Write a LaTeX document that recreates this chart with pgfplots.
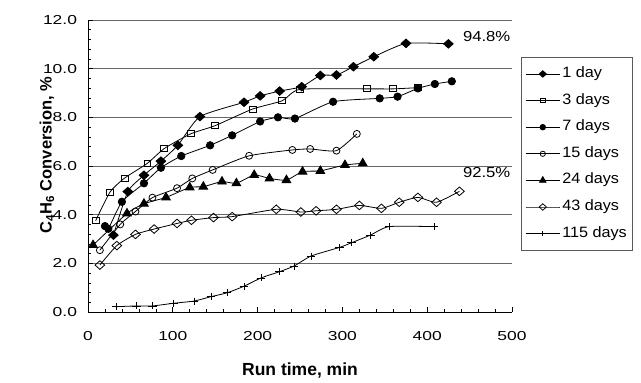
\documentclass[border=0pt]{standalone}
\usepackage{graphicx}
\usepackage{pgfplots}
\pgfplotsset{compat=1.18}
\usepackage{fontspec}
\setmainfont{Liberation Sans}
\newcommand{\sx}[1]{\scalebox{1.34}[1]{#1}}
\newcommand{\lx}[1]{\scalebox{1.08}[1]{#1}}
\begin{document}
\begin{tikzpicture}
\begin{axis}[
  scale only axis,
  width=424pt, height=292pt,
  xmin=0, xmax=500, ymin=0, ymax=12,
  axis x line=bottom, axis y line=left,
  axis line style={-, black, line width=0.8pt},
  xtick={0,100,...,500}, ytick={0,2,...,12},
  xticklabels={\sx{0},\sx{100},\sx{200},\sx{300},\sx{400},\sx{500}},
  yticklabels={\sx{0.0},\sx{2.0},\sx{4.0},\sx{6.0},\sx{8.0},\sx{10.0},\sx{12.0}},
  minor x tick num=4, minor y tick num=4,
  major tick length=5pt, minor tick length=3pt,
  major tick style={black, line width=0.7pt, tick align=center},
  minor tick style={black, line width=0.6pt},
  tick align=inside,
  ymajorgrids,
  major grid style={gray!80!black, line width=0.8pt},
  yticklabel style={font=\fontsize{13}{15}\selectfont, anchor=east, xshift=-7.5pt},
  xticklabel style={font=\fontsize{13}{15}\selectfont, anchor=north, yshift=-15.5pt},
  clip=false,
  legend style={at={(1.021,0.873)}, anchor=north west, draw=gray!70!black, line width=0.8pt,
    font=\fontsize{15}{17}\selectfont, row sep=7.6pt, inner xsep=4pt, inner ysep=7pt,
    nodes={inner sep=2pt, text height=11pt, text depth=4pt},
    /tikz/every even column/.append style={column sep=1pt}},
  legend cell align=left,
  legend image code/.code={\draw[mark repeat=2,mark phase=2,/tikz/every mark/.append style={scale=0.75}] plot coordinates {(0cm,0cm) (0.6cm,0cm) (1.2cm,0cm)};},
  every axis plot/.append style={black, line width=0.8pt, smooth, tension=0.35},
]
% 1 day
\addplot[mark=diamond*, mark size=4.3pt, mark options={fill=black, xscale=1.5}] coordinates {
(30,3.16)(47,4.95)(66,5.62)(86,6.2)(106,6.85)(132,8.03)(184,8.62)(203,8.88)(226,9.08)(252,9.26)(274,9.72)(293,9.74)(313,10.08)(337,10.49)(375,11.04)(425,11.02)};
\addlegendentry{\lx{1 day}}
% 3 days
\addplot[mark=square, mark size=3pt, mark options={fill=white, xscale=1.15}] coordinates {
(9,3.75)(26,4.93)(43,5.5)(70,6.11)(90,6.72)(121,7.32)(150,7.66)(194,8.34)(229,8.68)(250,9.15)(329,9.17)(360,9.17)(389,9.22)};
\addlegendentry{\lx{3 days}}
% 7 days
\addplot[mark=*, mark size=3.7pt, mark options={fill=black}] coordinates {
(20,3.53)(24,3.42)(40,4.53)(66,5.29)(86,5.93)(110,6.41)(144,6.85)(170,7.26)(203,7.83)(224,8.0)(244,7.95)(289,8.64)(344,8.78)(365,8.85)(389,9.19)(409,9.37)(429,9.48)};
\addlegendentry{\lx{7 days}}
% 15 days
\addplot[mark=o, mark size=3.5pt, mark options={fill=white}] coordinates {
(14,2.54)(38,3.6)(56,4.13)(76,4.7)(105,5.09)(123,5.49)(147,5.84)(190,6.42)(241,6.66)(262,6.7)(293,6.63)(317,7.32)};
\addlegendentry{\lx{15 days}}
% 24 days
\addplot[mark=triangle*, mark size=5pt, mark options={fill=black}] coordinates {
(6,2.75)(46,4.05)(66,4.45)(92,4.71)(120,5.12)(136,5.15)(158,5.36)(175,5.29)(196,5.63)(214,5.49)(234,5.42)(253,5.77)(274,5.8)(303,6.04)(324,6.11)};
\addlegendentry{\lx{24 days}}
% 43 days
\addplot[mark=diamond, mark size=4.3pt, mark options={fill=white, xscale=1.5}] coordinates {
(14,1.93)(34,2.73)(56,3.19)(78,3.41)(105,3.64)(122,3.77)(148,3.88)(170,3.92)(222,4.22)(251,4.11)(269,4.16)(293,4.22)(320,4.38)(346,4.26)(367,4.51)(389,4.71)(411,4.51)(438,4.96)};
\addlegendentry{\lx{43 days}}
% 115 days
\addplot[mark=+, mark size=3.5pt, mark options={xscale=1.25}] coordinates {
(34,0.22)(57,0.25)(76,0.25)(101,0.36)(125,0.45)(145,0.63)(164,0.79)(184,1.06)(204,1.4)(226,1.66)(243,1.89)(263,2.3)(297,2.66)(311,2.85)(333,3.16)(355,3.51)(408,3.51)};
\addlegendentry{\lx{115 days}}
\node[anchor=west, font=\fontsize{14.5}{17}\selectfont, inner sep=0pt] at (axis cs:442,11.34) {\scalebox{1.15}[1]{94.8\%}};
\node[anchor=west, font=\fontsize{14.5}{17}\selectfont, inner sep=0pt] at (axis cs:442,5.73) {\scalebox{1.15}[1]{92.5\%}};
\coordinate (bl) at (rel axis cs:-0.2075,-0.226);
\coordinate (tr) at (rel axis cs:1.3042,1.0685);
\node[rotate=90, font=\bfseries\fontsize{16.5}{19}\selectfont] at (rel axis cs:-0.0967,0.538) {C\textsubscript{4}H\textsubscript{6} Conversion, \%};
\node[font=\bfseries\fontsize{17.5}{19}\selectfont] at (rel axis cs:0.5,-0.202) {Run time, min};
\end{axis}
\path (bl) rectangle (tr);
\end{tikzpicture}
\end{document}
